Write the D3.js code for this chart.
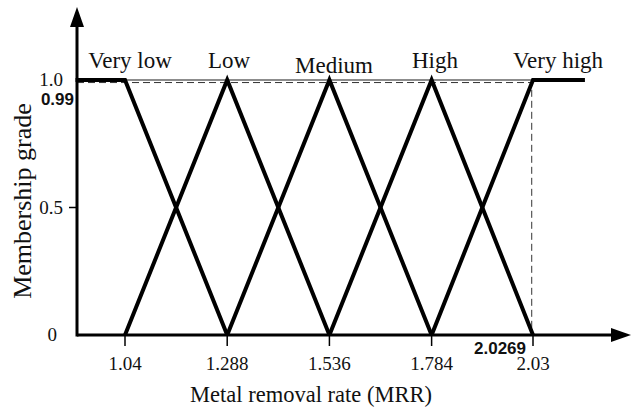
<!DOCTYPE html>
<html>
<head>
<meta charset="utf-8">
<script src="https://cdn.jsdelivr.net/npm/d3@7"></script>
<style>
  body { margin: 0; background: #fff; }
  svg { display: block; }
  .serif { font-family: "Liberation Serif", "Times New Roman", serif; fill: #111; }
  .bold-label { font-family: "Liberation Sans", Arial, sans-serif; font-weight: bold; fill: #111; }
</style>
</head>
<body>
<svg id="chart"></svg>
<script>
// Fuzzy set names and their breakpoints (MRR)
const setNames = ['Very low', 'Low', 'Medium', 'High', 'Very high'];
const xTicks = [1.04, 1.288, 1.536, 1.784, 2.03];
const xTickLabels = ['1.04', '1.288', '1.536', '1.784', '2.03'];
const yTicks = [0, 0.5, 1.0];
const yTickLabels = ['0', '0.5', '1.0'];
const xMin = 0.92, xMax = 2.156; // edge of shoulders
const markX = 2.0269, markY = 0.99;

// Membership polylines for each set
const setPoints = [
  [[xMin, 1], [1.04, 1], [1.288, 0]],
  [[1.04, 0], [1.288, 1], [1.536, 0]],
  [[1.288, 0], [1.536, 1], [1.784, 0]],
  [[1.536, 0], [1.784, 1], [2.03, 0]],
  [[1.784, 0], [2.03, 1], [xMax, 1]]
];

const width = 633, height = 417;
const svg = d3.select('#chart').attr('width', width).attr('height', height);

const x = d3.scaleLinear().domain([1.04, 2.03]).range([125, 533]);
const y = d3.scaleLinear().domain([0, 1]).range([335, 80]);
const axisX = 77;

// arrow markers
const defs = svg.append('defs');
defs.append('marker')
  .attr('id', 'arrow')
  .attr('viewBox', '0 0 20 14')
  .attr('refX', 2).attr('refY', 7)
  .attr('markerUnits', 'userSpaceOnUse')
  .attr('markerWidth', 20).attr('markerHeight', 14)
  .attr('orient', 'auto')
  .append('path')
  .attr('d', 'M0,0 L20,7 L0,14 Z')
  .attr('fill', '#000');

// thin reference line at 1.0
svg.append('line')
  .attr('x1', axisX).attr('x2', x(2.03))
  .attr('y1', y(1)).attr('y2', y(1))
  .attr('stroke', '#666').attr('stroke-width', 1.5);

// dashed guide lines at 0.99 / 2.0269
svg.append('path')
  .attr('d', `M${axisX},${y(markY)} H${x(markX)} V${y(0)}`)
  .attr('fill', 'none')
  .attr('stroke', '#333').attr('stroke-width', 1)
  .attr('stroke-dasharray', '7,4');

// axes
svg.append('line')
  .attr('x1', axisX).attr('x2', 613)
  .attr('y1', y(0)).attr('y2', y(0))
  .attr('stroke', '#000').attr('stroke-width', 3)
  .attr('marker-end', 'url(#arrow)');
svg.append('line')
  .attr('x1', axisX).attr('x2', axisX)
  .attr('y1', y(0) + 1.5).attr('y2', 25)
  .attr('stroke', '#000').attr('stroke-width', 3)
  .attr('marker-end', 'url(#arrow)');

// x ticks
svg.selectAll('.xtick')
  .data(xTicks)
  .join('line')
  .attr('class', 'xtick')
  .attr('x1', d => x(d)).attr('x2', d => x(d))
  .attr('y1', y(0)).attr('y2', y(0) + 11)
  .attr('stroke', '#000').attr('stroke-width', 1.5);

svg.selectAll('.xlabel')
  .data(xTicks)
  .join('text')
  .attr('class', 'serif xlabel')
  .attr('x', d => x(d))
  .attr('y', 370)
  .attr('text-anchor', 'middle')
  .style('font-size', '19px')
  .text((d, i) => xTickLabels[i]);

// y ticks
svg.append('line')
  .attr('x1', axisX - 8).attr('x2', axisX)
  .attr('y1', y(0.5)).attr('y2', y(0.5))
  .attr('stroke', '#000').attr('stroke-width', 1.5);

svg.selectAll('.ylabel')
  .data(yTicks)
  .join('text')
  .attr('class', 'serif ylabel')
  .attr('x', d => d === 0 ? 57 : 63)
  .attr('y', d => y(d) + 6)
  .attr('text-anchor', 'end')
  .style('font-size', '19px')
  .text((d, i) => yTickLabels[i]);

// membership functions
const line = d3.line().x(d => x(d[0])).y(d => y(d[1]));
svg.selectAll('.mf')
  .data(setPoints)
  .join('path')
  .attr('class', 'mf')
  .attr('d', line)
  .attr('fill', 'none')
  .attr('stroke', '#000')
  .attr('stroke-width', 4)
  .attr('stroke-linejoin', 'miter');

// set names
const nameX = [130, 229, 334, 435, 558];
svg.selectAll('.setname')
  .data(setNames)
  .join('text')
  .attr('class', 'serif setname')
  .attr('x', (d, i) => nameX[i])
  .attr('y', (d, i) => i === 2 ? 73 : 68)
  .attr('text-anchor', 'middle')
  .style('font-size', '23px')
  .text(d => d);

// marker values
svg.append('text')
  .attr('class', 'bold-label')
  .attr('x', 74).attr('y', 105)
  .attr('text-anchor', 'end')
  .style('font-size', '17px')
  .text('0.99');
svg.append('text')
  .attr('class', 'bold-label')
  .attr('x', 526).attr('y', 354)
  .attr('text-anchor', 'end')
  .style('font-size', '17px')
  .text('2.0269');

// axis titles
svg.append('text')
  .attr('class', 'serif')
  .attr('x', 311).attr('y', 402)
  .attr('text-anchor', 'middle')
  .style('font-size', '22.5px')
  .text('Metal removal rate (MRR)');
svg.append('text')
  .attr('class', 'serif')
  .attr('transform', 'translate(31,201) rotate(-90)')
  .attr('text-anchor', 'middle')
  .style('font-size', '26px')
  .text('Membership grade');
</script>
</body>
</html>
